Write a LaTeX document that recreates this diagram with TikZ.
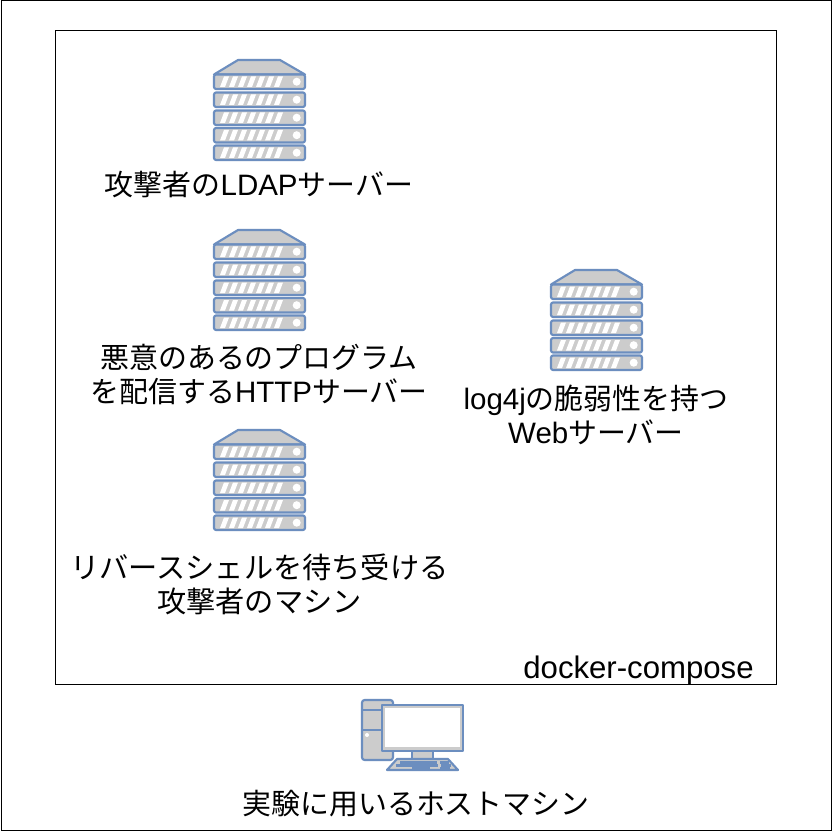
\documentclass[tikz,border=0pt]{standalone}
\usepackage{fontspec}
\setmainfont[Scale=1.02]{Liberation Sans}
\newfontfamily\cjk{Noto Sans CJK JP}
\newcommand{\J}[1]{{\cjk #1}}
\definecolor{edgeblue}{HTML}{6C8EBF}
\definecolor{bodygray}{HTML}{CCCCCC}
\tikzset{
  x=0.75pt,y=-0.75pt,
  frame/.style={draw=black,line width=0.75pt,fill=white},
  part/.style={draw=edgeblue,line width=1.6pt,fill=bodygray,line join=round},
  lab/.style={font=\fontsize{21.7pt}{25.5pt}\selectfont,align=center,inner sep=0pt,text=black},
  pics/serverrack/.style={code={
    \draw[part] (0,14.5) -- (24,0) -- (66,0) -- (91,14.5) -- cycle;
    \foreach \y in {14.5,32.5,50.5,68,85.5}{
      \draw[part,rounded corners=1.5pt] (0,\y) rectangle (91,\y+14.5);
      \foreach \s in {0,...,6}{
        \fill[white] (6+\s*9,\y+12.5) -- (10+\s*9,\y+2) -- (15+\s*9,\y+2) -- (11+\s*9,\y+12.5) -- cycle;
      }
      \fill[white] (82.7,\y+7.2) circle (4);
    }
  }},
  pics/hostpc/.style={code={
    \draw[part,rounded corners=2pt] (0,0) rectangle (31,60);
    \draw[part] (0,10) -- (31,10);
    \draw[part] (0,30) -- (31,30);
    \fill[white] (5,35) circle (2);
    \draw[part] (50,51) rectangle (71,60);
    \draw[part] (20,5) rectangle (101,51);
    \fill[white] (23,8) rectangle (98,47);
    \draw[part] (25,70) -- (35,59) -- (86,59) -- (96,70) -- cycle;
    \draw[edgeblue,line width=1.6pt] (38,62.5) -- (75,62.5) (78,62.5) -- (87,62.5)
      (34,65.5) -- (76,65.5) (79,65.5) -- (89,65.5)
      (50,68) -- (68,68) (78,68) -- (88,68);
  }}
}
\begin{document}
\begin{tikzpicture}
\useasboundingbox (0,0) rectangle (832,831);
\node[frame,minimum width=622.5pt,minimum height=621.75pt,inner sep=0pt,anchor=north west] (host) at (0.5,0.5) {};
\node[frame,minimum width=540.2pt,minimum height=490.5pt,inner sep=0pt,anchor=north west] (compose) at (55.3,30) {};
\pic at (214,60) {serverrack};
\pic at (214,230) {serverrack};
\pic at (214,430) {serverrack};
\pic at (551,270) {serverrack};
\pic at (362,700) {hostpc};
\node[lab] (ldap) at (259,185) {\J{攻撃者の}LDAP\J{サーバー}};
\node[lab] (http) at (259,375) {\J{悪意のあるのプログラム}\\\J{を配信する}HTTP\J{サーバー}};
\node[lab,font=\fontsize{21.9pt}{25.5pt}\selectfont] (rev) at (259.5,584) {\J{リバースシェルを待ち受ける}\\\J{攻撃者のマシン}};
\node[lab] (web) at (596,415) {log4j\J{の脆弱性を持つ}\\Web\J{サーバー}};
\node[lab,font=\fontsize{22.9pt}{25.5pt}\selectfont] (dc) at (638.5,670) {docker-compose};
\node[lab] (pc) at (416,804) {\J{実験に用いるホストマシン}};
\end{tikzpicture}
\end{document}
